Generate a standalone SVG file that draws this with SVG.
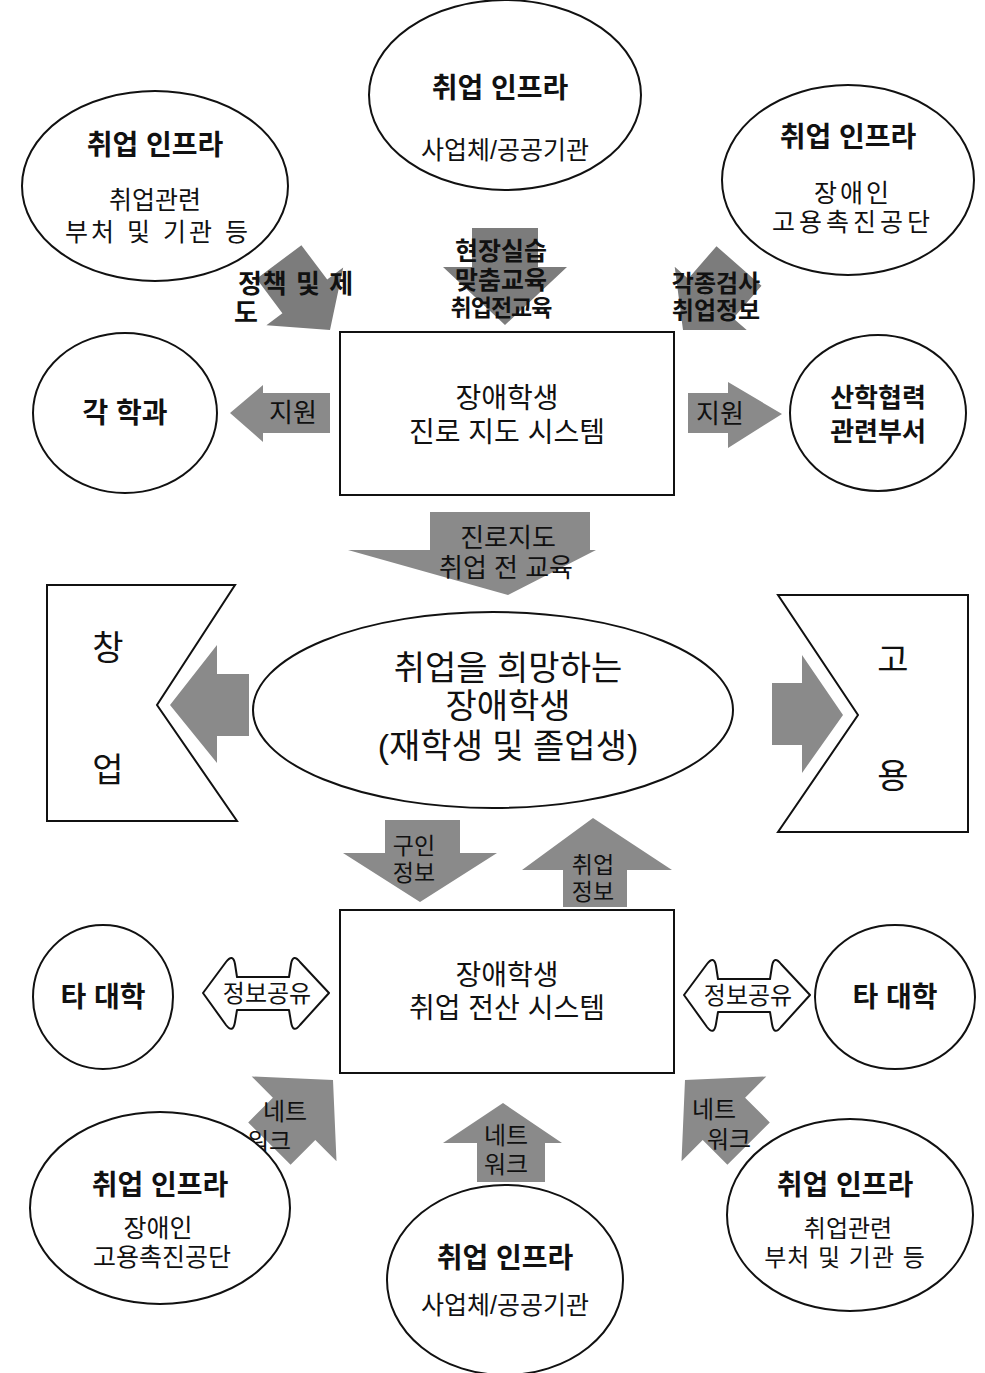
<svg xmlns="http://www.w3.org/2000/svg" width="985" height="1373" viewBox="0 0 985 1373">
<style>
text{font-family:"Liberation Sans","Noto Sans CJK KR",sans-serif;fill:#111;text-anchor:middle;dominant-baseline:central}
.b{font-weight:bold}
.node{fill:#fff;stroke:#111;stroke-width:2}
.arr{fill:#8a8a8a;stroke:none}
.arrd{fill:#7c7c7c;stroke:none}
.dbl{fill:#fff;stroke:#111;stroke-width:2;stroke-linejoin:round}
.f28{font-size:28px}
.f26{font-size:26px}
.f25{font-size:25px}
.f24{font-size:24px}
.f23{font-size:23px}
.f34{font-size:34px}
</style>
<rect width="985" height="1373" fill="#fff"/>

<g id="connectors">
  <polygon class="arrd" points="330,330 343.2,267.6 327.2,279.6 301.4,245.2 256.6,278.8 282.4,313.2 266.4,325.2"/>
  <polygon class="arrd" points="472,228 538,228 538,267 567,267 505,325 443,267 472,267"/>
  <polygon class="arrd" points="683,330 746.7,330 733.2,318.3 761.5,285.8 716.5,246.2 688.2,278.7 674.7,266.8"/>
  <polygon class="arr" points="230,413 263,385 263,393 330,393 330,433 263,433 263,442"/>
  <polygon class="arr" points="688,393 728,393 728,382 782,414 728,448 728,433 688,433"/>
  <polygon class="arr" points="430,512 590,512 590,550 596,550 508,595 348,550 430,550"/>
  <polygon class="arr" points="170,705 217,645 217,674 249,674 249,736 217,736 217,763"/>
  <polygon class="arr" points="772,683 802,683 802,655 843,715 802,773 802,745 772,745"/>
  <polygon class="arr" points="385,820 460,820 460,853 497,853 420,902 343,853 385,853"/>
  <polygon class="arr" points="593,818 672,870 627,870 627,907 563,907 563,870 522,870"/>
  <path class="dbl" d="M203,993 L226,962 Q233,953 235,964 L237,977 L289,977 L291,964 Q293,953 300,962 L329,993 L300,1025 Q293,1034 291,1022 L289,1010 L237,1010 L235,1022 Q233,1034 226,1025 Z"/>
  <path class="dbl" transform="translate(481,2)" d="M203,993 L226,962 Q233,953 235,964 L237,977 L289,977 L291,964 Q293,953 300,962 L329,993 L300,1025 Q293,1034 291,1022 L289,1010 L237,1010 L235,1022 Q233,1034 226,1025 Z"/>
  <polygon class="arr" points="333,1080 336.5,1161.3 315.3,1140.1 290.6,1164.8 248.2,1122.4 272.9,1097.7 251.7,1076.5"/>
  <polygon class="arr" points="503,1103 562,1143 545,1143 545,1182 477,1182 477,1143 443,1143"/>
  <polygon class="arr" points="685,1080 681.5,1161.3 702.7,1140.1 727.4,1164.8 769.8,1122.4 745.1,1097.7 766.3,1076.5"/>

  <text class="b f26"><tspan x="296" y="284" letter-spacing="1">정책 및 제</tspan><tspan x="246" y="313">도</tspan></text>
  <text class="b"><tspan class="f25" x="501" y="251">현장실습</tspan><tspan class="f25" x="501" y="280">맞춤교육</tspan><tspan class="f23" x="501" y="308" letter-spacing="-1">취업전교육</tspan></text>
  <text class="b f24"><tspan x="716" y="283">각종검사</tspan><tspan x="716" y="310">취업정보</tspan></text>
  <text class="f26" x="293" y="413">지원</text>
  <text class="f26" x="720" y="414">지원</text>
  <text class="f26"><tspan x="508" y="538">진로지도</tspan><tspan x="506" y="568">취업 전 교육</tspan></text>
  <text class="f23"><tspan x="414" y="846">구인</tspan><tspan x="414" y="873">정보</tspan></text>
  <text class="f23"><tspan x="593" y="865">취업</tspan><tspan x="593" y="892">정보</tspan></text>
  <text class="f24" x="267" y="993">정보공유</text>
  <text class="f24" x="748" y="995">정보공유</text>
  <text class="f24"><tspan x="285" y="1111">네트</tspan><tspan x="269" y="1141">워크</tspan></text>
  <text class="f24"><tspan x="506" y="1135">네트</tspan><tspan x="506" y="1164">워크</tspan></text>
  <text class="f24"><tspan x="714" y="1109">네트</tspan><tspan x="729" y="1139">워크</tspan></text>
</g>

<g id="infra-top-center">
  <ellipse class="node" cx="505" cy="95" rx="136" ry="95"/>
  <text class="b f28" x="500" y="88">취업 인프라</text>
  <text class="f25" x="505" y="150">사업체/공공기관</text>
</g>
<g id="infra-top-left">
  <ellipse class="node" cx="155" cy="186" rx="133" ry="95"/>
  <text class="b f28" x="155" y="145">취업 인프라</text>
  <text class="f25"><tspan x="155" y="200">취업관련</tspan><tspan x="158" y="232" letter-spacing="3">부처 및 기관 등</tspan></text>
</g>
<g id="infra-top-right">
  <ellipse class="node" cx="848" cy="180" rx="126" ry="95"/>
  <text class="b f28" x="848" y="137">취업 인프라</text>
  <text class="f25"><tspan x="853" y="193" letter-spacing="3">장애인</tspan><tspan x="853" y="222" letter-spacing="4">고용촉진공단</tspan></text>
</g>
<g id="dept">
  <ellipse class="node" cx="125" cy="413" rx="92" ry="80"/>
  <text class="b f28" x="125" y="413">각 학과</text>
</g>
<g id="career-system">
  <rect class="node" x="340" y="332" width="334" height="163"/>
  <text class="f28"><tspan x="507" y="398">장애학생</tspan><tspan x="507" y="432">진로 지도 시스템</tspan></text>
</g>
<g id="industry">
  <ellipse class="node" cx="878" cy="413" rx="88" ry="78"/>
  <text class="b f26"><tspan x="878" y="398">산학협력</tspan><tspan x="878" y="432">관련부서</tspan></text>
</g>
<g id="startup">
  <polygon class="node" points="47,585 235,585 157,705 237,821 47,821"/>
  <text class="f34" x="108" y="648">창</text>
  <text class="f34" x="108" y="770">업</text>
</g>
<g id="students">
  <ellipse class="node" cx="493" cy="710" rx="240" ry="98" stroke-width="2.5"/>
  <text class="f34"><tspan x="508" y="668">취업을 희망하는</tspan><tspan x="508" y="706">장애학생</tspan><tspan x="508" y="746">(재학생 및 졸업생)</tspan></text>
</g>
<g id="employment">
  <polygon class="node" points="778,595 968,595 968,832 778,832 858,715"/>
  <text class="f34" x="893" y="660">고</text>
  <text class="f34" x="893" y="776">용</text>
</g>
<g id="univ-left">
  <ellipse class="node" cx="103" cy="997" rx="70" ry="72"/>
  <text class="b f28" x="103" y="997">타 대학</text>
</g>
<g id="job-system">
  <rect class="node" x="340" y="910" width="334" height="163"/>
  <text class="f28"><tspan x="507" y="975">장애학생</tspan><tspan x="507" y="1008">취업 전산 시스템</tspan></text>
</g>
<g id="univ-right">
  <ellipse class="node" cx="895" cy="997" rx="80" ry="72"/>
  <text class="b f28" x="895" y="997">타 대학</text>
</g>
<g id="infra-bottom-left">
  <ellipse class="node" cx="160" cy="1208" rx="130" ry="96"/>
  <text class="b f28" x="160" y="1185">취업 인프라</text>
  <text class="f25"><tspan x="158" y="1228">장애인</tspan><tspan x="162" y="1257">고용촉진공단</tspan></text>
</g>
<g id="infra-bottom-center">
  <ellipse class="node" cx="505" cy="1280" rx="118" ry="95"/>
  <text class="b f28" x="505" y="1258">취업 인프라</text>
  <text class="f25" x="505" y="1305">사업체/공공기관</text>
</g>
<g id="infra-bottom-right">
  <ellipse class="node" cx="850" cy="1215" rx="123" ry="96"/>
  <text class="b f28" x="845" y="1185">취업 인프라</text>
  <text class="f24"><tspan x="848" y="1228">취업관련</tspan><tspan x="845" y="1257" letter-spacing="1">부처 및 기관 등</tspan></text>
</g>
</svg>
